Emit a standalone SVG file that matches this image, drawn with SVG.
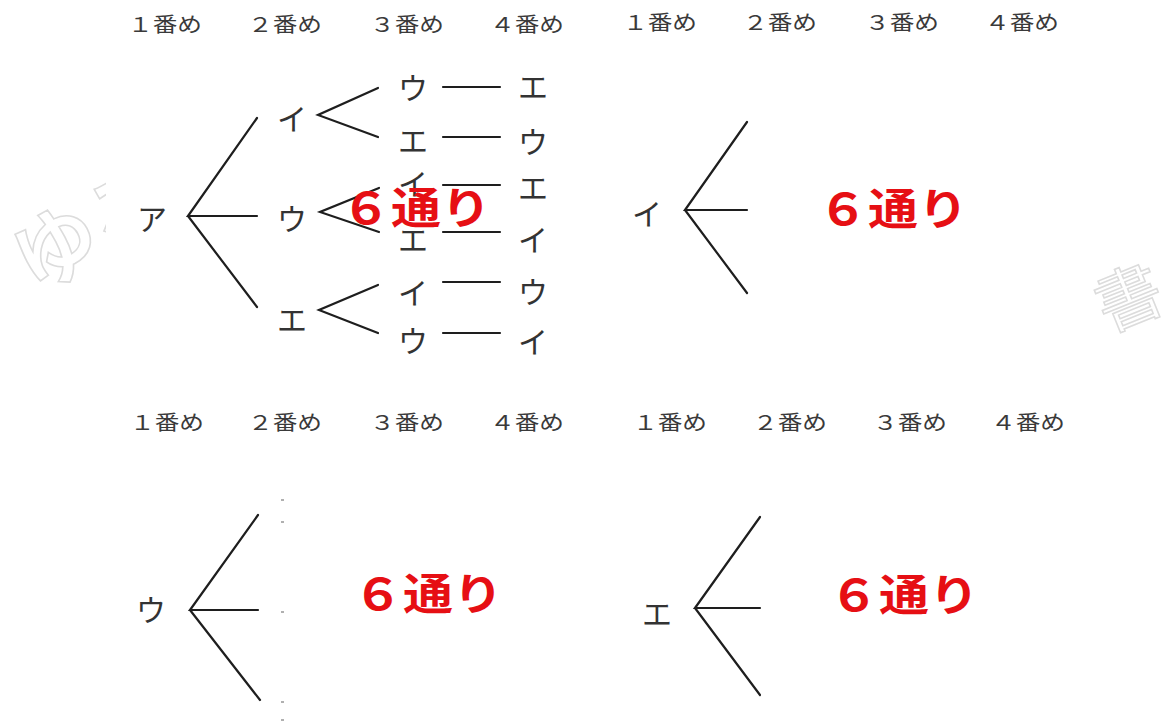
<svg xmlns="http://www.w3.org/2000/svg" width="1164" height="724" viewBox="0 0 1164 724">
<defs>
<style>
.hd{font-family:"Noto Sans CJK JP","Liberation Sans",sans-serif;font-size:20px;fill:#3a3a3a;}
.kt{font-family:"Noto Sans CJK JP","Liberation Sans",sans-serif;font-size:30px;fill:#333;text-anchor:middle;dominant-baseline:central;}
.big{font-family:"Noto Sans CJK JP","Liberation Sans",sans-serif;font-size:43px;font-weight:bold;fill:#e60f14;}
.ln{stroke:#1e1e1e;stroke-width:2.2;fill:none;stroke-linecap:round;}
.wm{font-family:"Noto Sans CJK JP",sans-serif;fill:#fff;stroke:#dcdcdc;stroke-width:1.6;}
.dot{fill:#b0b0b0;}
</style>
<clipPath id="cl"><rect x="0" y="0" width="106" height="724"/></clipPath>
<clipPath id="cr"><rect x="1070" y="0" width="94" height="724"/></clipPath>
</defs>
<rect width="1164" height="724" fill="#fff"/>

<g id="watermark">
<g clip-path="url(#cl)"><text class="wm" x="14" y="276" font-size="84" font-weight="bold" transform="rotate(-28 60 245)">ゆる</text></g>
<g clip-path="url(#cr)"><text class="wm" x="1092" y="322" font-size="66" transform="rotate(-22 1126 288)">書</text></g>
</g>

<g id="headers">
<text class="hd" x="128" y="32" textLength="74" lengthAdjust="spacingAndGlyphs">１番め</text>
<text class="hd" x="248" y="32" textLength="74" lengthAdjust="spacingAndGlyphs">２番め</text>
<text class="hd" x="370" y="32" textLength="74" lengthAdjust="spacingAndGlyphs">３番め</text>
<text class="hd" x="490" y="32" textLength="74" lengthAdjust="spacingAndGlyphs">４番め</text>
<text class="hd" x="623" y="30" textLength="74" lengthAdjust="spacingAndGlyphs">１番め</text>
<text class="hd" x="743" y="30" textLength="74" lengthAdjust="spacingAndGlyphs">２番め</text>
<text class="hd" x="865" y="30" textLength="74" lengthAdjust="spacingAndGlyphs">３番め</text>
<text class="hd" x="985" y="30" textLength="74" lengthAdjust="spacingAndGlyphs">４番め</text>
<text class="hd" x="130" y="430" textLength="74" lengthAdjust="spacingAndGlyphs">１番め</text>
<text class="hd" x="248" y="430" textLength="74" lengthAdjust="spacingAndGlyphs">２番め</text>
<text class="hd" x="370" y="430" textLength="74" lengthAdjust="spacingAndGlyphs">３番め</text>
<text class="hd" x="490" y="430" textLength="74" lengthAdjust="spacingAndGlyphs">４番め</text>
<text class="hd" x="633" y="430" textLength="74" lengthAdjust="spacingAndGlyphs">１番め</text>
<text class="hd" x="753" y="430" textLength="74" lengthAdjust="spacingAndGlyphs">２番め</text>
<text class="hd" x="873" y="430" textLength="74" lengthAdjust="spacingAndGlyphs">３番め</text>
<text class="hd" x="991" y="430" textLength="74" lengthAdjust="spacingAndGlyphs">４番め</text>
</g>

<g id="connectors">
<path class="ln" d="M257 118 L188 216 L257 216 M188 216 L257 307"/>
<path class="ln" d="M378 88 L318 115 L378 137"/>
<path class="ln" d="M379 188 L320 212 L379 232"/>
<path class="ln" d="M378 285 L319 310 L378 333"/>
<path class="ln" d="M443 87 H500 M443 137 H500 M443 185 H500 M443 232 H500 M443 282 H500 M443 333 H500"/>
<path class="ln" d="M747 122 L685 210 L747 210 M685 210 L747 293"/>
<path class="ln" d="M258 515 L190 610 L258 610 M190 610 L260 700"/>
<path class="ln" d="M760 517 L695 608 L760 608 M695 608 L760 695"/>
</g>

<g id="tree-a">
<text class="kt" x="152" y="217">ア</text>
<text class="kt" x="292" y="117">イ</text>
<text class="kt" x="292" y="217">ウ</text>
<text class="kt" x="292" y="318">エ</text>
<text class="kt" x="413" y="86">ウ</text>
<text class="kt" x="413" y="139">エ</text>
<text class="kt" x="413" y="182">イ</text>
<text class="kt" x="413" y="238">エ</text>
<text class="kt" x="413" y="291">イ</text>
<text class="kt" x="413" y="339">ウ</text>
<text class="kt" x="533" y="85">エ</text>
<text class="kt" x="533" y="140">ウ</text>
<text class="kt" x="533" y="186">エ</text>
<text class="kt" x="533" y="238">イ</text>
<text class="kt" x="533" y="290">ウ</text>
<text class="kt" x="533" y="340">イ</text>
<text class="big" x="341" y="224" textLength="150" lengthAdjust="spacingAndGlyphs">６通り</text>
</g>

<g id="tree-i">
<text class="kt" x="647" y="212">イ</text>
<text class="big" x="818" y="225" textLength="150" lengthAdjust="spacingAndGlyphs">６通り</text>
</g>

<g id="tree-u">
<text class="kt" x="151" y="608">ウ</text>
<rect class="dot" x="281" y="499" width="3" height="2"/>
<rect class="dot" x="281" y="521" width="3" height="2"/>
<rect class="dot" x="281" y="611" width="3" height="2"/>
<rect class="dot" x="281" y="701" width="3" height="2"/>
<rect class="dot" x="281" y="719" width="3" height="2"/>
<text class="big" x="353" y="610" textLength="150" lengthAdjust="spacingAndGlyphs">６通り</text>
</g>

<g id="tree-e">
<text class="kt" x="657" y="612">エ</text>
<text class="big" x="829" y="611" textLength="150" lengthAdjust="spacingAndGlyphs">６通り</text>
</g>
</svg>
